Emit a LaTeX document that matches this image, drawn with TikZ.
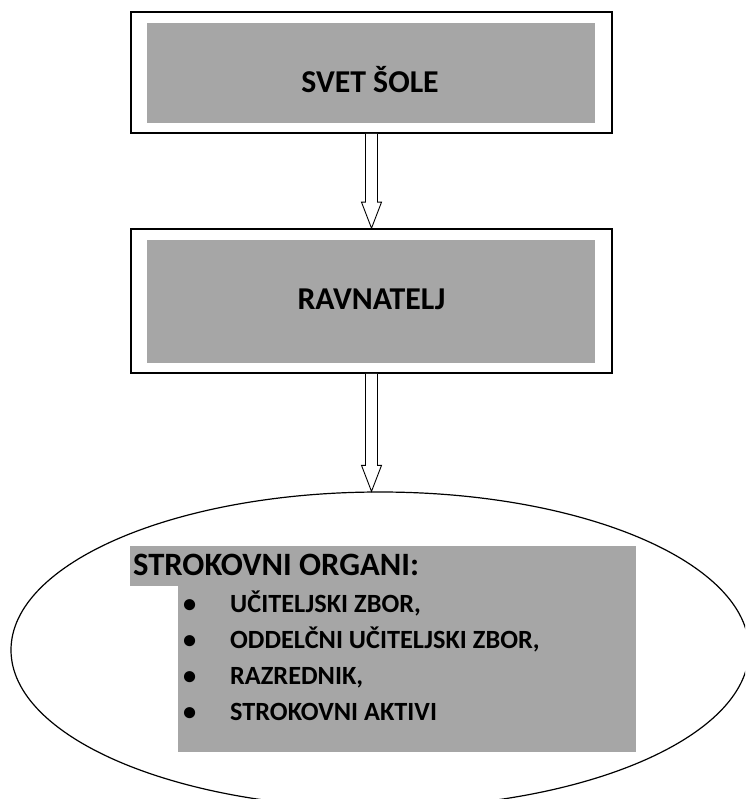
\documentclass[tikz,border=0pt]{standalone}
\usepackage{fontspec}
\setmainfont{Carlito}
\usetikzlibrary{positioning,calc,shapes.geometric}
\definecolor{boxgray}{RGB}{166,166,166}
\tikzset{
    frame/.style={draw, line width=1.6pt, minimum width=481pt, minimum height=121pt, inner sep=0pt},
    shade/.style={fill=boxgray, minimum width=448pt, minimum height=100pt, inner sep=0pt},
    title/.style={anchor=base, inner sep=0pt, font=\bfseries\fontsize{31.8}{32}\selectfont},
    hollow/.style={draw, line width=0.9pt, fill=white},
    head/.style={anchor=base west, inner sep=0pt, font=\bfseries\fontsize{32.6}{33}\selectfont},
    item/.style={anchor=base west, inner sep=0pt, font=\bfseries\fontsize{26.3}{27}\selectfont}
}
\begin{document}
\begin{tikzpicture}[x=1pt, y=-1pt]
    \clip[use as bounding box] (0,0) rectangle (745,799);
    \node[frame] (svet) at (371.5,72.5) {};
    \node[shade] (svetin) at (371,73) {};
    \node[title] (svettext) at (370,93) {SVET ŠOLE};
    \node[frame, minimum height=144pt] (ravn) at (371.5,301) {};
    \node[shade, minimum height=123pt] (ravnin) at (371,301.5) {};
    \node[title] (ravntext) at (371.5,309) {RAVNATELJ};
    \node[draw, ellipse, line width=1.2pt, minimum width=738pt, minimum height=316pt, inner sep=0pt] (org) at (380,650) {};
    \fill[boxgray] (130,546) rectangle (636,586);
    \fill[boxgray] (178,586) rectangle (636,752);
    \node[head] (orghead) at (133,575) {STROKOVNI ORGANI:};
    \foreach \t [count=\i] in {{UČITELJSKI ZBOR,},{ODDELČNI UČITELJSKI ZBOR,},{RAZREDNIK,},{STROKOVNI AKTIVI}}
        \node[item] (item\i) at (230,576+36*\i) {\llap{\textbullet\hspace{34pt}}\t};
    \foreach \a/\b in {svet/ravn,ravn/org}
        \draw[hollow] ($(\a.south)+(-6,0)$) -- ($(\a.south |- \b.north)+(-6,-26)$) -- ++(-4,0)
            -- (\a.south |- \b.north) -- ++(10,-26) -- ++(-4,0) -- ($(\a.south)+(6,0)$);
\end{tikzpicture}
\end{document}
